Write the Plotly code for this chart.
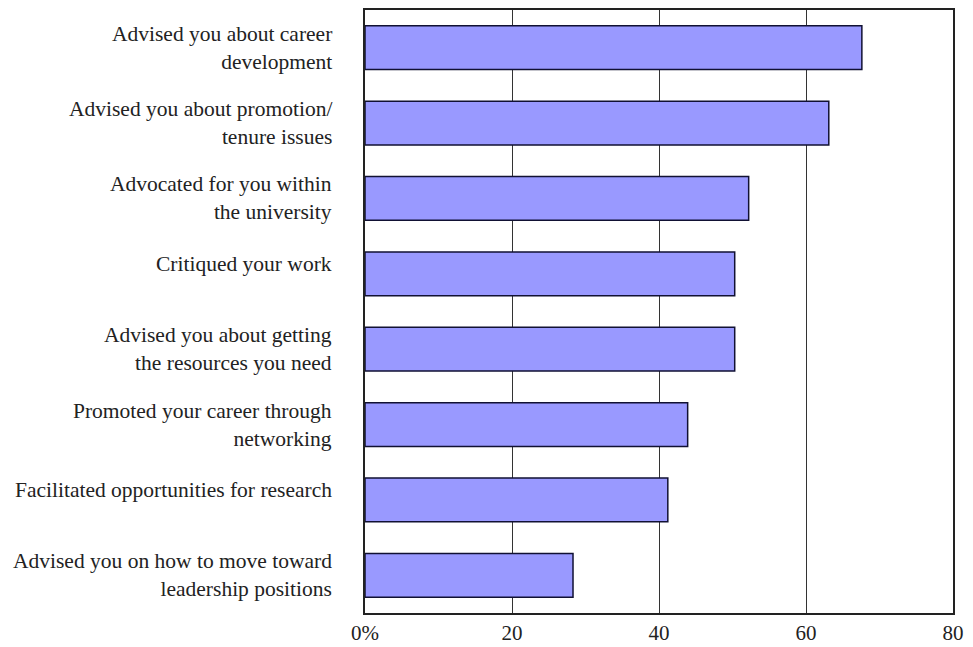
import plotly.graph_objects as go

categories = [
    "Advised you about career<br>development",
    "Advised you about promotion/<br>tenure issues",
    "Advocated for you within<br>the university",
    "Critiqued your work",
    "Advised you about getting<br>the resources you need",
    "Promoted your career through<br>networking",
    "Facilitated opportunities for research",
    "Advised you on how to move toward<br>leadership positions",
]
values = [67.6, 63.1, 52.2, 50.3, 50.3, 43.9, 41.2, 28.3]
tick_vals = [0, 20, 40, 60, 80]
tick_text = ["0%", "20", "40", "60", "80"]

FONT = "Liberation Serif"

fig = go.Figure(go.Bar(
    x=values, y=categories, orientation="h",
    marker=dict(color="#9999FF", line=dict(color="#111133", width=1.5)),
))

for c in categories:
    single = "<br>" not in c
    fig.add_annotation(
        x=0, xref="paper", y=c, yref="y", xanchor="right", align="right",
        xshift=-31, yshift=10 if single else 0, showarrow=False, text=c,
        font=dict(family=FONT, size=21.5, color="#222222"),
    )

fig.update_layout(
    width=965, height=639,
    margin=dict(l=357, r=20, t=0, b=34),
    paper_bgcolor="white", plot_bgcolor="white",
    bargap=0.42, showlegend=False,
    font=dict(family=FONT, size=21, color="#222222"),
)
fig.update_xaxes(
    range=[0, 80], tickvals=tick_vals, ticktext=tick_text,
    showgrid=True, gridcolor="#333333", gridwidth=1,
    showline=True, linecolor="#222222", linewidth=1.5, mirror=True,
    ticks="", zeroline=False, tickfont=dict(family=FONT, size=21, color="#222222"),
)
fig.update_yaxes(
    autorange="reversed", showticklabels=False, showgrid=False,
    showline=True, linecolor="#222222", linewidth=1.5, mirror=True, ticks="",
)

fig.write_html("out.html")
